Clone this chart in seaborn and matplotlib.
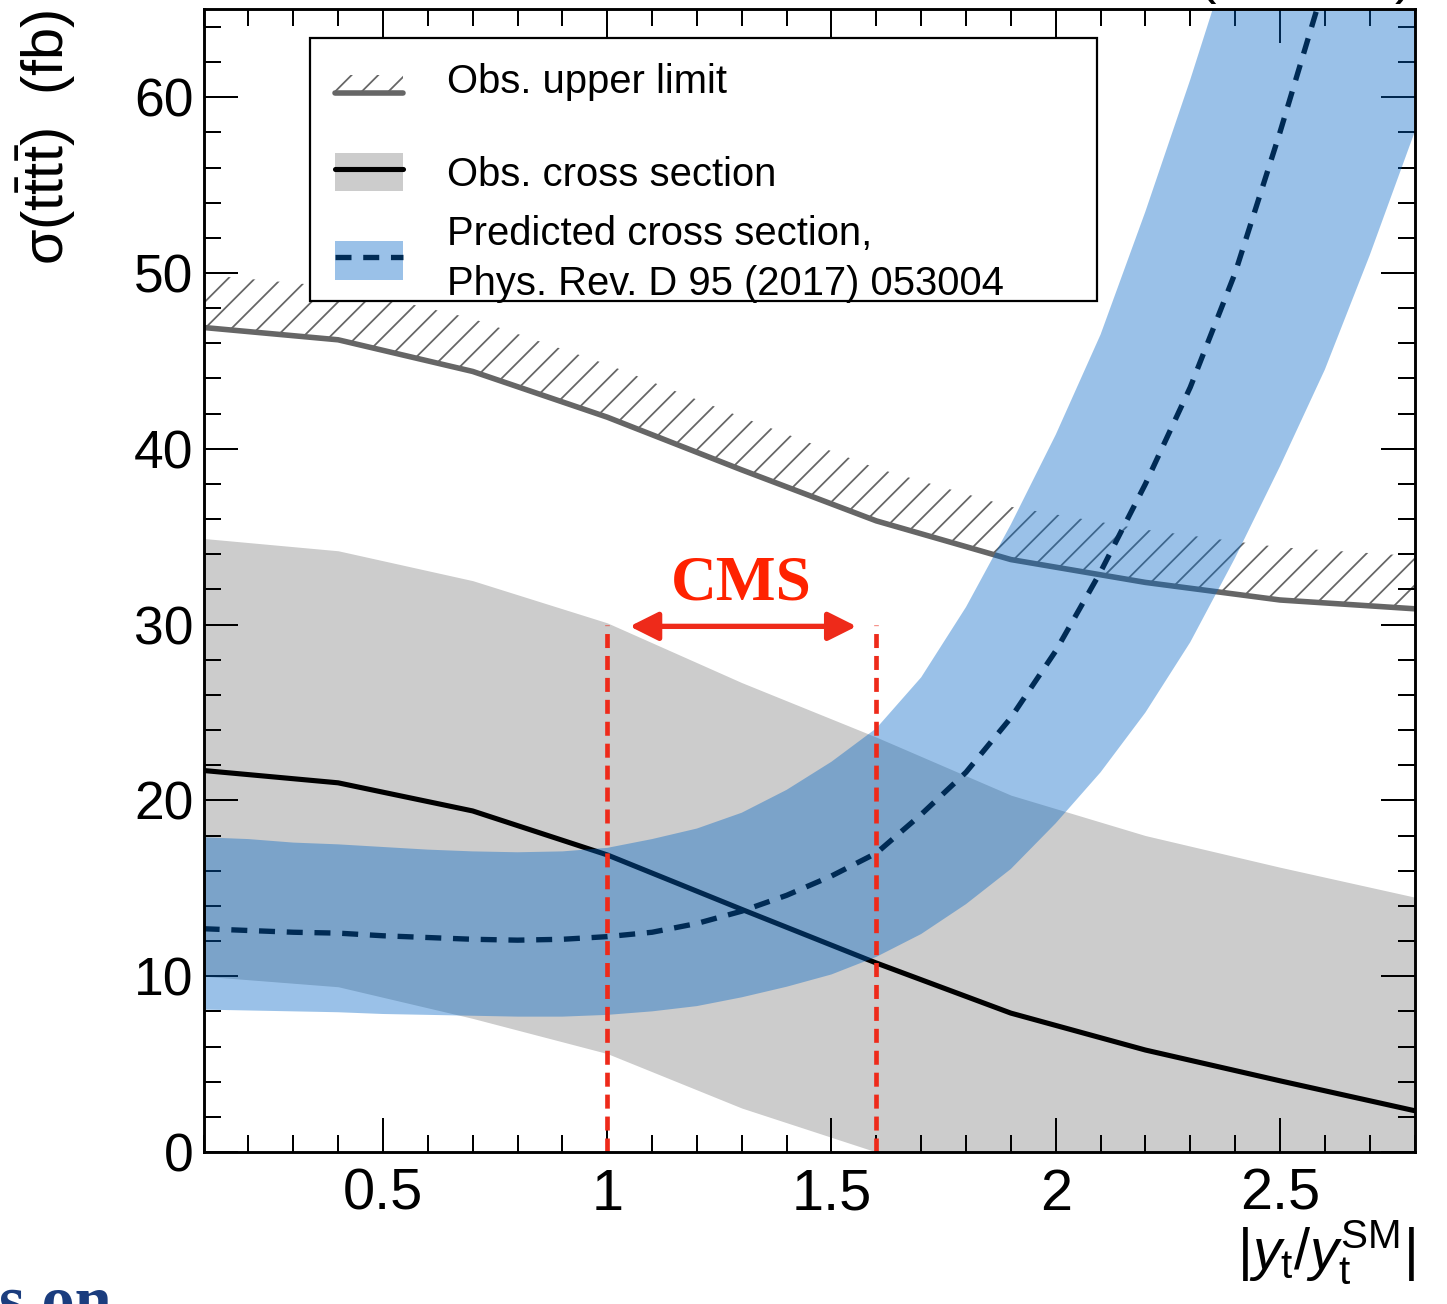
"""
plot.py

Four-top cross section vs. |y_t / y_t^SM|: observed limit, observed cross
section band and the predicted cross section band, with the CMS range marked.
"""

import matplotlib

matplotlib.use("Agg")
import matplotlib.pyplot as plt
import seaborn as sns
from matplotlib.legend import Legend
from matplotlib.legend_handler import HandlerBase, HandlerTuple
from matplotlib.lines import Line2D
from matplotlib.patches import Patch, Rectangle
from matplotlib.ticker import FuncFormatter, MultipleLocator

# ---------------------------------------------------------------------------
# Data
# ---------------------------------------------------------------------------
x_obs = [0.1, 0.4, 0.7, 1.0, 1.3, 1.6, 1.9, 2.2, 2.5, 2.8]
obs_upper_limit = [46.9, 46.2, 44.4, 41.8, 38.8, 35.9, 33.7, 32.4, 31.4, 30.9]
obs_xsec = [21.7, 21.0, 19.4, 16.9, 13.8, 10.75, 7.9, 5.8, 4.05, 2.35]
obs_xsec_hi = [34.9, 34.2, 32.5, 30.1, 26.7, 23.6, 20.3, 18.0, 16.2, 14.5]
obs_xsec_lo = [10.0, 9.4, 7.6, 5.6, 2.5, 0.0, 0.0, 0.0, 0.0, 0.0]

x_pred = [0.1, 0.2, 0.3, 0.4, 0.5, 0.6, 0.7, 0.8, 0.9, 1.0,
          1.1, 1.2, 1.3, 1.4, 1.5, 1.6, 1.7, 1.8, 1.9, 2.0,
          2.1, 2.2, 2.3, 2.4, 2.5, 2.6, 2.7, 2.8]
pred_xsec = [12.7, 12.6, 12.5, 12.45, 12.3, 12.2, 12.1, 12.05, 12.1, 12.25,
             12.5, 13.0, 13.7, 14.6, 15.7, 17.0, 19.2, 21.6, 24.7, 28.5,
             33.0, 38.0, 43.5, 50.0, 58.0, 66.5, 75.5, 85.0]
pred_xsec_lo = [8.1, 8.05, 8.0, 7.95, 7.85, 7.8, 7.75, 7.7, 7.7, 7.8,
                8.0, 8.3, 8.8, 9.4, 10.1, 11.1, 12.4, 14.1, 16.1, 18.7,
                21.6, 25.0, 29.0, 33.8, 39.0, 44.5, 51.0, 58.0]
pred_xsec_hi = [17.9, 17.8, 17.6, 17.5, 17.35, 17.2, 17.1, 17.05, 17.1, 17.3,
                17.8, 18.4, 19.3, 20.6, 22.2, 24.1, 27.0, 31.0, 35.7, 40.8,
                46.5, 53.5, 61.0, 69.0, 78.0, 88.0, 99.0, 111.0]

# CMS interval annotation
cms_range = [1.0, 1.6]
cms_line_top = 30.0
cms_arrow_x = [1.05, 1.556]
cms_arrow_y = 29.9
cms_label_pos = (1.3, 31.4)

labels = [
    "Obs. upper limit",
    "Obs. cross section",
    "Predicted cross section,\nPhys. Rev. D 95 (2017) 053004",
]

# ---------------------------------------------------------------------------
# Style
# ---------------------------------------------------------------------------
DPI = 160
W_PX, H_PX = 1447, 1304
UL_COLOR = "#666666"
GRAY_BAND = "#cccccc"
BLUE = "#0366c6"
NAVY = "#002b55"
RED = "#ee2a1a"
HATCH_DEPTH = 3.0  # height of the hatched strip above the limit line (fb)
DASH = (0, (3, 2.2))

# axes box in figure pixels (left, top, right, bottom)
AX_L, AX_T, AX_R, AX_B = 203.6, 9.3, 1414.5, 1152.0

sns.set_theme(style="ticks")
plt.rcParams["font.family"] = ["Liberation Sans", "DejaVu Sans"]
plt.rcParams["mathtext.fontset"] = "custom"
plt.rcParams["mathtext.rm"] = "Liberation Sans"
plt.rcParams["mathtext.it"] = "Liberation Sans:italic"
plt.rcParams["hatch.linewidth"] = 0.8
plt.rcParams["hatch.color"] = UL_COLOR
for key in ("text.color", "axes.labelcolor", "xtick.color", "ytick.color",
            "xtick.labelcolor", "ytick.labelcolor"):
    plt.rcParams[key] = "black"


def ax_xy(px, py):
    """Figure pixel position -> axes fraction."""
    return ((px - AX_L) / (AX_R - AX_L), (AX_B - py) / (AX_B - AX_T))


class HatchLineHandler(HandlerBase):
    """Legend entry: limit line with hatching on its excluded side."""

    def create_artists(self, legend, orig_handle, xdescent, ydescent,
                       width, height, fontsize, trans):
        x0, y0 = -xdescent, -ydescent
        ybase = y0 + 0.14 * height
        hatch = Rectangle((x0, ybase), width, 0.47 * height, facecolor="none",
                          edgecolor=UL_COLOR, hatch="//", linewidth=0,
                          transform=trans)
        line = Line2D([x0, x0 + width], [ybase, ybase], color=UL_COLOR,
                      linewidth=2.5, transform=trans)
        return [hatch, line]


def main():
    fig = plt.figure(figsize=(W_PX / DPI, H_PX / DPI), dpi=DPI)
    ax = fig.add_axes([AX_L / W_PX, 1 - AX_B / H_PX,
                       (AX_R - AX_L) / W_PX, (AX_B - AX_T) / H_PX])

    # --- observed cross section band + line ---
    ax.fill_between(x_obs, obs_xsec_lo, obs_xsec_hi, color=GRAY_BAND,
                    linewidth=0, zorder=1)
    sns.lineplot(x=x_obs, y=obs_xsec, ax=ax, color="black", linewidth=2.3,
                 errorbar=None, zorder=2)

    # --- observed upper limit with hatching above ---
    ul_top = [v + HATCH_DEPTH for v in obs_upper_limit]
    ax.fill_between(x_obs, obs_upper_limit, ul_top, facecolor="none",
                    edgecolor=UL_COLOR, hatch="//", linewidth=0, zorder=2)
    sns.lineplot(x=x_obs, y=obs_upper_limit, ax=ax, color=UL_COLOR,
                 linewidth=2.5, errorbar=None, zorder=2)

    # --- predicted cross section band + dashed central value ---
    ax.fill_between(x_pred, pred_xsec_lo, pred_xsec_hi, color=BLUE, alpha=0.4,
                    linewidth=0, zorder=3)
    sns.lineplot(x=x_pred, y=pred_xsec, ax=ax, color=NAVY, linewidth=2.4,
                 linestyle=DASH, errorbar=None, zorder=4)

    # --- CMS interval ---
    ax.vlines(cms_range, 0, cms_line_top, colors=RED, linewidth=2.1,
              linestyles=[(0, (3.0, 1.7))], zorder=6)
    ax.annotate("", xy=(cms_arrow_x[1], cms_arrow_y),
                xytext=(cms_arrow_x[0], cms_arrow_y),
                arrowprops=dict(arrowstyle="<|-|>,head_length=0.9,head_width=0.45",
                                color=RED, linewidth=2.4, shrinkA=0, shrinkB=0),
                zorder=6)
    ax.text(*cms_label_pos, "CMS", color="#ff2200", fontsize=28.5,
            family="Liberation Serif", weight="bold", ha="center",
            va="baseline", zorder=6)

    # --- axes ---
    ax.set_xlim(0.1, 2.8)
    ax.set_ylim(0, 65)
    ax.xaxis.set_major_locator(MultipleLocator(0.5))
    ax.xaxis.set_minor_locator(MultipleLocator(0.1))
    ax.yaxis.set_major_locator(MultipleLocator(10))
    ax.yaxis.set_minor_locator(MultipleLocator(2))
    ax.xaxis.set_major_formatter(FuncFormatter(lambda v, _: f"{v:g}"))
    ax.tick_params(which="both", direction="in", top=True, right=True,
                   width=0.9, color="black")
    ax.tick_params(which="major", length=15.5)
    ax.tick_params(which="minor", length=7.8)
    ax.tick_params(axis="x", which="major", labelsize=26, pad=7)
    ax.tick_params(axis="y", which="major", labelsize=24, pad=4.5)
    ax.set_axisbelow(False)
    for spine in ax.spines.values():
        spine.set_linewidth(1.3)
        spine.set_color("black")
        spine.set_zorder(7)

    ax.set_ylabel(r"$\mathregular{\sigma(t\bar{t}t\bar{t})}$  (fb)",
                  fontsize=26, loc="top")
    ax.yaxis.set_label_coords(-0.104, 1.0)
    ax.set_xlabel(r"$|y_{\mathrm{t}}/y_{\mathrm{t}}^{\mathrm{SM}}|$",
                  fontsize=26, loc="right")
    ax.xaxis.set_label_coords(1.0, -0.059)

    # header text, mostly cropped above the figure edge
    ax.text(0.998, 1.0 + 17 / (AX_B - AX_T), r"35.9 fb$^{-1}$ (13 TeV)",
            transform=ax.transAxes, ha="right", va="baseline", fontsize=25,
            clip_on=False)
    # cropped slide text at the bottom left
    fig.text(112 / W_PX, -18 / H_PX, "s on", ha="right", va="baseline",
             fontsize=30, family="Liberation Serif", weight="bold",
             color="#1b3d7e")

    # --- legend: one frame, two stacked legends for uneven row heights ---
    bx0, by1 = ax_xy(310, 38)
    bx1, by0 = ax_xy(1097, 301)
    ax.add_patch(Rectangle((bx0, by0), bx1 - bx0, by1 - by0,
                           transform=ax.transAxes, facecolor="white",
                           edgecolor="black", linewidth=1.0, zorder=8))

    h_ul = Patch(facecolor="none", edgecolor=UL_COLOR)
    h_obs = (Patch(facecolor=GRAY_BAND, linewidth=0),
             Line2D([], [], color="black", linewidth=2.3))
    h_pred = (Patch(facecolor=BLUE, alpha=0.4, linewidth=0),
              Line2D([], [], color=NAVY, linewidth=2.4, linestyle=DASH))
    common = dict(loc="upper left", borderaxespad=0, borderpad=0,
                  fontsize=18, frameon=False, handlelength=1.7,
                  handleheight=1.12, handletextpad=1.1)

    leg_a = Legend(ax, [h_ul, h_obs], labels[:2],
                   handler_map={h_ul: HatchLineHandler(),
                                tuple: HandlerTuple(ndivide=1)},
                   bbox_to_anchor=ax_xy(335, 59.5), labelspacing=1.3,
                   **common)
    leg_b = Legend(ax, [h_pred], labels[2:],
                   handler_map={tuple: HandlerTuple(ndivide=1)},
                   bbox_to_anchor=ax_xy(335, 215), **common)
    leg_b.get_texts()[0].set_linespacing(1.4)
    for leg in (leg_a, leg_b):
        leg.set_zorder(9)
        ax.add_artist(leg)

    fig.savefig("out.png", dpi=DPI)
    plt.close(fig)


if __name__ == "__main__":
    main()
